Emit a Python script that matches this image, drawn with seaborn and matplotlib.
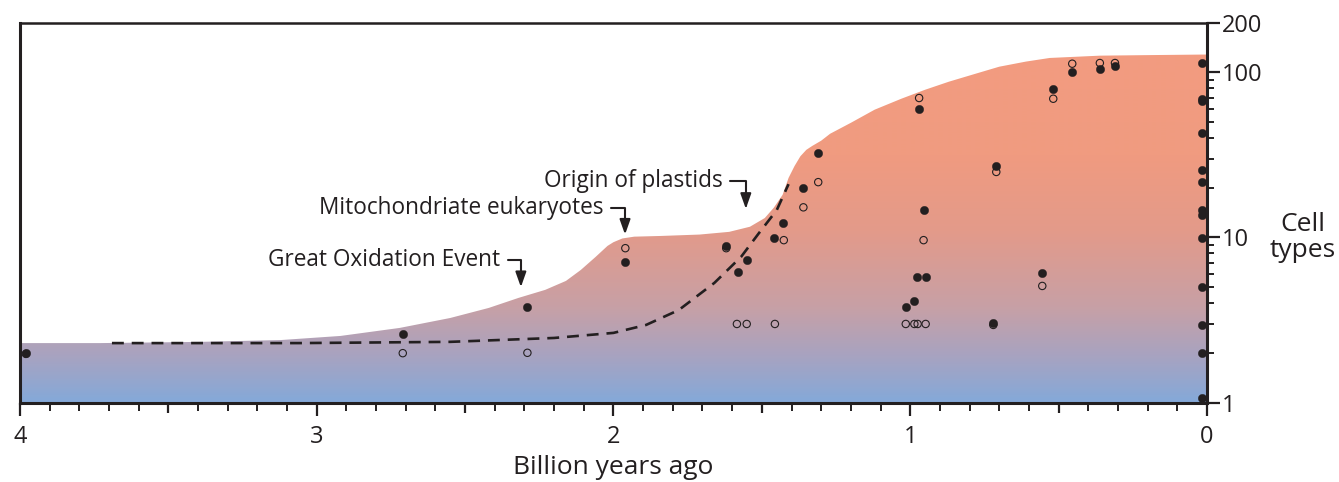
import numpy as np
import matplotlib.pyplot as plt
import seaborn as sns
from matplotlib.colors import LinearSegmentedColormap
from matplotlib.ticker import FixedLocator, NullFormatter
import matplotlib.transforms as mtransforms

sns.set_style('ticks')
plt.rcParams['font.family'] = ['Open Sans', 'DejaVu Sans']

INK = '#231f20'

# upper edge of the shaded region (billion years ago, cell types)
env_age = [4.0, 3.73, 3.39, 3.12, 2.92, 2.72, 2.55, 2.42, 2.32, 2.23, 2.16, 2.11, 2.06, 2.02,
           2.00, 1.97, 1.93, 1.84, 1.71, 1.61, 1.54, 1.49, 1.46, 1.43, 1.41, 1.39, 1.37, 1.35,
           1.33, 1.30, 1.27, 1.20, 1.12, 1.03, 0.95, 0.87, 0.78, 0.70, 0.61, 0.53, 0.36, 0.19,
           0.0]
env_cells = [2.29, 2.29, 2.33, 2.39, 2.53, 2.83, 3.25, 3.74, 4.30, 4.81, 5.45, 6.35, 7.62, 8.88,
             9.35, 9.85, 10.1, 10.2, 10.4, 10.8, 11.6, 13.1, 15.1, 18.1, 22.9, 27.0, 31.0, 33.9,
             35.8, 38.5, 42.4, 49.4, 59.3, 69.1, 78.3, 87.6, 97.9, 108, 116, 122, 126, 127,
             128]

# dashed trend
dash_age = [3.69, 3.06, 2.55, 2.20, 2.00, 1.89, 1.78, 1.66, 1.57, 1.51, 1.45, 1.41]
dash_cells = [2.29, 2.29, 2.33, 2.46, 2.64, 2.95, 3.63, 5.30, 7.62, 10.6, 14.6, 21.0]

# filled circles
filled_age = [3.98, 2.71, 2.29, 1.96, 1.62, 1.58, 1.55, 1.46, 1.43, 1.36, 1.31, 1.015, 0.987,
              0.976, 0.948, 0.955, 0.97, 0.72, 0.71, 0.555, 0.518, 0.454, 0.361, 0.31,
              0.017, 0.017, 0.017, 0.017, 0.017, 0.017, 0.017, 0.017, 0.017, 0.017, 0.017,
              0.017, 0.017]
filled_cells = [2.0, 2.61, 3.78, 7.07, 8.92, 6.18, 7.30, 9.89, 12.3, 19.9, 32.6, 3.81, 4.14,
                5.76, 5.76, 14.7, 59.8, 3.02, 27.2, 6.07, 79.1, 99.7, 104.5, 109.5,
                113.7, 68.8, 66.5, 42.8, 25.5, 21.5, 14.7, 13.6, 9.89, 4.99, 2.95, 1.99, 1.07]

# open circles
open_age = [3.98, 2.71, 2.29, 1.96, 1.62, 1.584, 1.551, 1.456, 1.426, 1.36, 1.31, 1.015, 0.986,
            0.975, 0.948, 0.955, 0.97, 0.72, 0.71, 0.555, 0.518, 0.454, 0.361, 0.31]
open_cells = [1.97, 1.99, 2.0, 8.6, 8.6, 2.99, 2.99, 2.99, 9.62, 15.2, 21.6, 2.99, 2.99,
              2.99, 2.99, 9.62, 69.8, 2.95, 24.9, 5.08, 69.1, 112.6, 113.7, 113.7]

x_ticks = [4, 3.5, 3, 2.5, 2, 1.5, 1, 0.5, 0]
x_labels = ['4', '', '3', '', '2', '', '1', '', '0']
y_ticks = [1, 10, 100, 200]
y_labels = ['1', '10', '100', '200']

fig = plt.figure(figsize=(13.39, 4.82), dpi=100)
ax = fig.add_axes([0.0149, 0.1649, 0.8865, 0.7884])

# gradient fill clipped to the envelope
cmap = LinearSegmentedColormap.from_list('bg', [
    (0.0, '#84a9d9'), (0.12, '#a7a3c1'), (0.25, '#c7a0a6'),
    (0.45, '#e39a8a'), (0.65, '#f09b80'), (1.0, '#f49c80')])
grad = np.linspace(0, 1, 256).reshape(-1, 1)
im = ax.imshow(grad, cmap=cmap, origin='lower', extent=[0, 1, 0, 1],
               transform=ax.transAxes, aspect='auto', zorder=0, interpolation='bilinear')

ax.set_yscale('log')
ax.set_xlim(4, 0)
ax.set_ylim(1, 200)

env = ax.fill_between(env_age, 1, env_cells, facecolor='none', edgecolor='none')
im.set_clip_path(env.get_paths()[0], transform=ax.transData)

sns.lineplot(x=dash_age, y=dash_cells, ax=ax, color=INK, lw=1.9,
             linestyle=(0, (4.5, 3)), sort=False, zorder=2)
sns.scatterplot(x=filled_age, y=filled_cells, ax=ax, s=36, color=INK,
                edgecolor=INK, linewidth=0.3, zorder=3)
sns.scatterplot(x=open_age, y=open_cells, ax=ax, s=28, facecolor='none',
                edgecolor=INK, linewidth=0.8, zorder=3)

# annotations
arrow = dict(arrowstyle='-|>,head_length=0.45,head_width=0.16', color=INK, lw=1.5,
             mutation_scale=20, shrinkA=3, shrinkB=0, relpos=(1, 0.5),
             connectionstyle='angle,angleA=0,angleB=90,rad=0')
ax.annotate('Great Oxidation Event', xy=(2.312, 5.0), xytext=(2.382, 7.3),
            ha='right', va='center', fontsize=16.3, color=INK, arrowprops=arrow)
ax.annotate('Mitochondriate eukaryotes', xy=(1.961, 10.4), xytext=(2.035, 15.1),
            ha='right', va='center', fontsize=16.3, color=INK, arrowprops=arrow)
ax.annotate('Origin of plastids', xy=(1.554, 14.9), xytext=(1.631, 22.0),
            ha='right', va='center', fontsize=16.3, color=INK, arrowprops=arrow)

# axes styling
for side in ['left', 'right', 'top', 'bottom']:
    ax.spines[side].set_visible(True)
    ax.spines[side].set_color(INK)
    ax.spines[side].set_linewidth(2.2)
ax.spines['top'].set_linewidth(1.8)

ax.yaxis.tick_right()
ax.set_yticks(y_ticks)
ax.set_yticklabels(y_labels)
ax.yaxis.set_minor_locator(FixedLocator([2, 3, 4, 5, 6, 7, 8, 9, 20, 30, 40, 50, 60, 70, 80, 90]))
ax.yaxis.set_minor_formatter(NullFormatter())
ax.tick_params(axis='y', which='major', direction='out', length=9.5, width=1.6,
               color=INK, labelsize=17, labelcolor=INK, pad=1.5)
ax.tick_params(axis='y', which='minor', direction='out', length=5, width=1.4, color=INK)

ax.set_xticks(x_ticks)
ax.set_xticklabels(x_labels)
ax.xaxis.set_minor_locator(FixedLocator([v / 10 for v in range(41) if v % 5 != 0]))
ax.tick_params(axis='x', which='major', direction='out', length=9.5, width=1.6,
               color=INK, labelsize=17, labelcolor=INK, pad=7)
ax.tick_params(axis='x', which='minor', direction='out', length=5.5, width=1.4, color=INK)
for tick, lab in zip(ax.xaxis.get_major_ticks(), x_labels):
    if lab == '':
        tick.tick1line.set_markersize(7.5)

ax.set_xlabel('Billion years ago', fontsize=19, color=INK, labelpad=4)
trans = mtransforms.blended_transform_factory(ax.transAxes, ax.transData)
ax.text(1.081, 10, 'Cell\ntypes', transform=trans, ha='center', va='center',
        fontsize=19, color=INK, linespacing=1.05)

fig.savefig('out.png', dpi=100)
